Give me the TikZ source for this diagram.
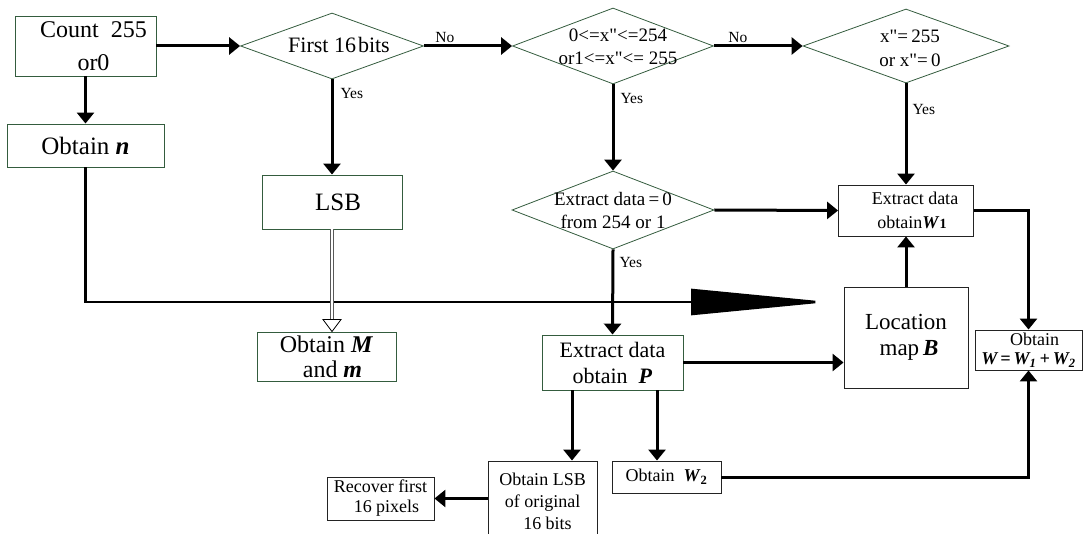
\documentclass[tikz,border=0pt]{standalone}
\usepackage{fontspec}
\setmainfont{Liberation Serif}
% the same face without TeX ligature mapping, so that " stays a straight quote
\newfontfamily\plainserif{Liberation Serif}
\usetikzlibrary{arrows.meta,shapes.geometric,calc}
\definecolor{boxgreen}{RGB}{52,92,62}
\definecolor{boxgrey}{RGB}{35,35,35}
\newcommand{\fs}[2]{\fontsize{#1}{#2}\selectfont}
\newcommand{\bi}[1]{\textbf{\textit{#1}}}
\begin{document}
\begin{tikzpicture}[x=1pt,y=-1pt,
  gbox/.style={rectangle, draw=boxgreen, line width=0.9pt, inner sep=0pt, align=center},
  kbox/.style={rectangle, draw=boxgrey, line width=0.9pt, inner sep=0pt, align=center},
  dia/.style={diamond, draw=boxgreen, line width=0.8pt, inner sep=0pt},
  flow/.style={line width=3pt, -{Triangle[length=11pt,width=17pt]}},
  longflow/.style={line width=2.6pt, -{Triangle[length=138pt,width=26pt]}},
  dbl/.style={draw=black!65, line width=0.8pt, double=white, double distance=1.6pt},
  tag/.style={font=\fs{15.5}{17}, inner sep=0pt}]
\useasboundingbox (0,0) rectangle (1083,534);

% boxes on the left
\node[gbox, minimum width=141, minimum height=60, font=\fs{24}{33}] (count) at (85.5,46)
  {\hspace*{16pt}Count\ \ 255\\\hspace*{16pt}or0};
\node[gbox, minimum width=157, minimum height=43, font=\fs{25}{30}] (obn) at (85.5,145.5)
  {Obtain \bi{n}};

% decisions
\node[dia, minimum width=183, minimum height=66] (d1) at (332,46) {};
\node[font=\fs{22}{26}] (d1t) at (339,45) {First 16\hspace{2pt}bits};
\node[dia, minimum width=201, minimum height=76] (d2) at (613,46) {};
\node[font=\plainserif\fs{19}{23}, align=center] (d2t) at (618,47) {0<=x"<=254\\or1<=x"<= 255};
\node[dia, minimum width=206, minimum height=74] (d3) at (906,46) {};
\node[font=\plainserif\fs{19}{24}, align=center] (d3t) at (910,48) {x"=\,255\\or x"=\,0};
\node[dia, minimum width=202, minimum height=78] (d4) at (613,210) {};
\node[font=\fs{19}{23}, align=center] (d4t) at (613,211) {Extract data\,=\,0\\from 254 or 1};

% process boxes
\node[gbox, minimum width=140, minimum height=54, font=\fs{25}{30}] (lsb) at (332,202) {\hspace*{12pt}LSB};
\node[gbox, minimum width=139, minimum height=49, font=\fs{24}{25}] (obm) at (326.5,356.5)
  {Obtain \bi{M}\\\hspace*{12pt}and \bi{m}};
\node[kbox, minimum width=135, minimum height=51, font=\fs{18}{24}] (w1) at (906,210.5)
  {\hspace*{18pt}Extract data\\\hspace*{12pt}obtain\bi{W}\textbf{\fs{14}{14}1}};
\node[kbox, minimum width=124, minimum height=101, font=\fs{23}{26}] (loc) at (906,337.5)
  {Location\\\hspace*{6pt}map\,\bi{B}};
\node[kbox, minimum width=107, minimum height=40, font=\fs{18}{19}] (obw) at (1028.5,350)
  {\hspace*{12pt}Obtain\\\bi{W\,=\,W\textsubscript{1}\,+\,W\textsubscript{2}}};
\node[gbox, minimum width=141, minimum height=55, font=\fs{22}{26}] (P) at (612.5,362.5)
  {Extract data\\obtain\ \ \bi{P}};
\node[kbox, minimum width=109, minimum height=32, font=\fs{18}{20}] (w2) at (666.5,477)
  {Obtain\ \ \bi{W}\textsubscript{\textbf{2}}};
\node[kbox, minimum width=109, minimum height=80, font=\fs{18}{22}] (olsb) at (542.5,501)
  {Obtain LSB\\of original\\\hspace*{10pt}16 bits};
\node[kbox, minimum width=107, minimum height=43, font=\fs{18}{20}] (rec) at (380.5,498.5)
  {Recover first\\\hspace*{12pt}16 pixels};

\coordinate (bigtip) at (829,302);

% connectors
\draw[flow] (count.east) -- (d1.west);
\draw[flow] (count.south) -- (obn.north);
\draw[longflow] (obn.south) |- (bigtip);
\draw[flow] (d1.east) -- (d2.west)
  node[tag, pos=0, anchor=south west, xshift=10pt, yshift=2pt] (no1) {No};
\draw[flow] (d1.south) -- (lsb.north)
  node[tag, pos=0, anchor=north west, xshift=7pt, yshift=-7pt] (yes1) {Yes};
\draw[dbl] (lsb.south) -- ([yshift=12pt]lsb.south |- obm.north);
\draw[line width=0.8pt, fill=white] (lsb.south |- obm.north) -- ++(-9,-12) -- ++(18,0) -- cycle;
\draw[flow] (d2.east) -- (d3.west)
  node[tag, pos=0, anchor=south west, xshift=13pt, yshift=2pt] (no2) {No};
\draw[flow] (d2.south) -- (d4.north)
  node[tag, pos=0, anchor=north west, xshift=6pt, yshift=-7pt] (yes2) {Yes};
\draw[flow] (d3.south) -- (w1.north)
  node[tag, pos=0, anchor=north west, xshift=5pt, yshift=-19pt] (yes3) {Yes};
\draw[flow] (d4.east) -- (w1.west);
\draw[flow] (d4.south) -- (P.north)
  node[tag, pos=0, anchor=north west, xshift=5pt, yshift=-6pt] (yes4) {Yes};
\draw[flow] (P.east) -- (P.east -| loc.west);
\draw[flow] (loc.north) -- (w1.south);
\draw[flow] (w1.east) -| (obw.north);
\draw[flow] (w2.east) -| (obw.south);
\draw[flow] ([xshift=-40.5pt]P.south) -- ([xshift=-40.5pt]P.south |- olsb.north);
\draw[flow] ([xshift=44.5pt]P.south) -- ([xshift=44.5pt]P.south |- w2.north);
\draw[flow] (olsb.west |- rec.east) -- (rec.east);
\end{tikzpicture}
\end{document}
